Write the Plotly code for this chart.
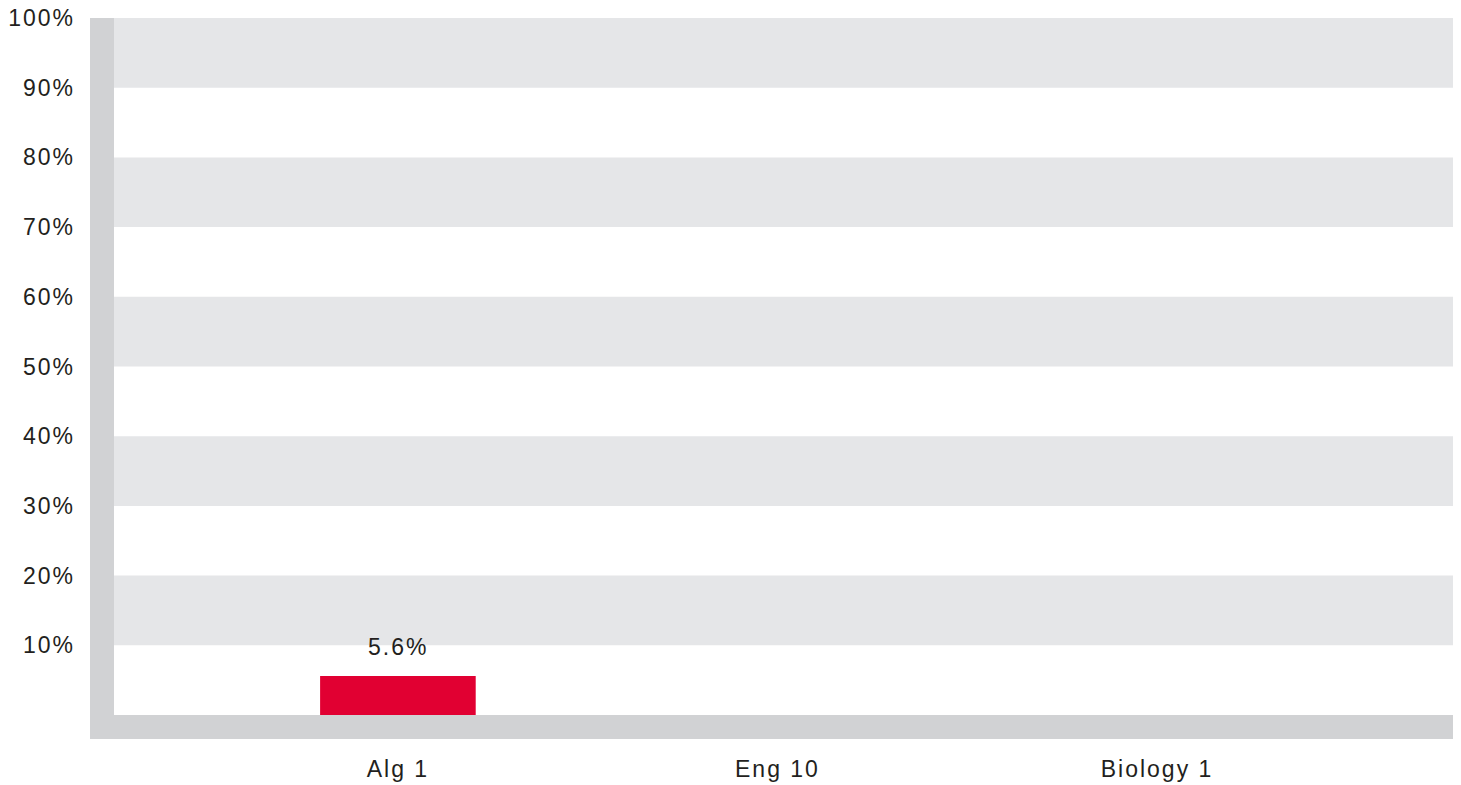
#--------------------- Packages
import plotly.graph_objects as go

#--------------------- Data
subjects = ['Alg 1', 'Eng 10', 'Biology 1']
pct_values = [5.6, None, None]
pct_labels = ['5.6%', '', '']
y_ticks = [10, 20, 30, 40, 50, 60, 70, 80, 90, 100]
band_ranges = [(10, 20), (30, 40), (50, 60), (70, 80), (90, 100)]

#--------------------- Colours / fonts
RED = '#e10032'
BAND = '#e5e6e8'
FRAME = '#d1d2d4'
TXT = '#231f20'
FONT = 'Liberation Sans, Arial, sans-serif'

def spaced(t):
    "wrap text so it gets the same loose letter spacing as the original"
    return '<span style="letter-spacing:2px">' + t + '</span>'

#--------------------- Figure
fig = go.Figure()
fig.add_trace(go.Bar(x = subjects, y = pct_values, marker_color = RED,
                     marker_line_width = 0, width = 0.41, hoverinfo = 'skip'))

# label above the bar
for s, v, t in zip(subjects, pct_values, pct_labels):
    if v is not None:
        fig.add_annotation(x = s, y = v, text = spaced(t), showarrow = False,
                           yanchor = 'bottom', yshift = 14,
                           font = dict(size = 23, color = TXT, family = FONT))

# alternating grey bands
for lo, hi in band_ranges:
    fig.add_shape(type = 'rect', xref = 'paper', yref = 'y', x0 = 0, x1 = 1,
                  y0 = lo, y1 = hi, fillcolor = BAND, line_width = 0, layer = 'below')

# L-shaped frame left + bottom
fig.add_shape(type = 'rect', xref = 'paper', yref = 'paper', x0 = -0.01786, x1 = 0,
              y0 = -0.0344, y1 = 1, fillcolor = FRAME, line_width = 0)
fig.add_shape(type = 'rect', xref = 'paper', yref = 'paper', x0 = -0.01786, x1 = 1,
              y0 = -0.0344, y1 = 0, fillcolor = FRAME, line_width = 0)

fig.update_xaxes(type = 'category', range = [-0.748, 2.793], showgrid = False,
                 zeroline = False, showline = False, ticks = '', automargin = False,
                 tickvals = subjects, ticktext = [spaced(s) for s in subjects],
                 ticklabelstandoff = 38,
                 tickfont = dict(size = 23, color = TXT, family = FONT))
fig.update_yaxes(range = [0, 100], tickvals = y_ticks,
                 ticktext = [spaced(str(v) + '%') for v in y_ticks],
                 showgrid = False, zeroline = False, showline = False, ticks = '',
                 automargin = False, ticklabelstandoff = 38, ticklabeloverflow = 'allow',
                 tickfont = dict(size = 23, color = TXT, family = FONT))
# page body has an 8px margin, so size/margins are set relative to that
fig.update_layout(width = 1453, height = 777, showlegend = False,
                  margin = dict(l = 106, r = 3, t = 10, b = 70),
                  plot_bgcolor = 'white', paper_bgcolor = 'white')

fig.write_html("out.html")
